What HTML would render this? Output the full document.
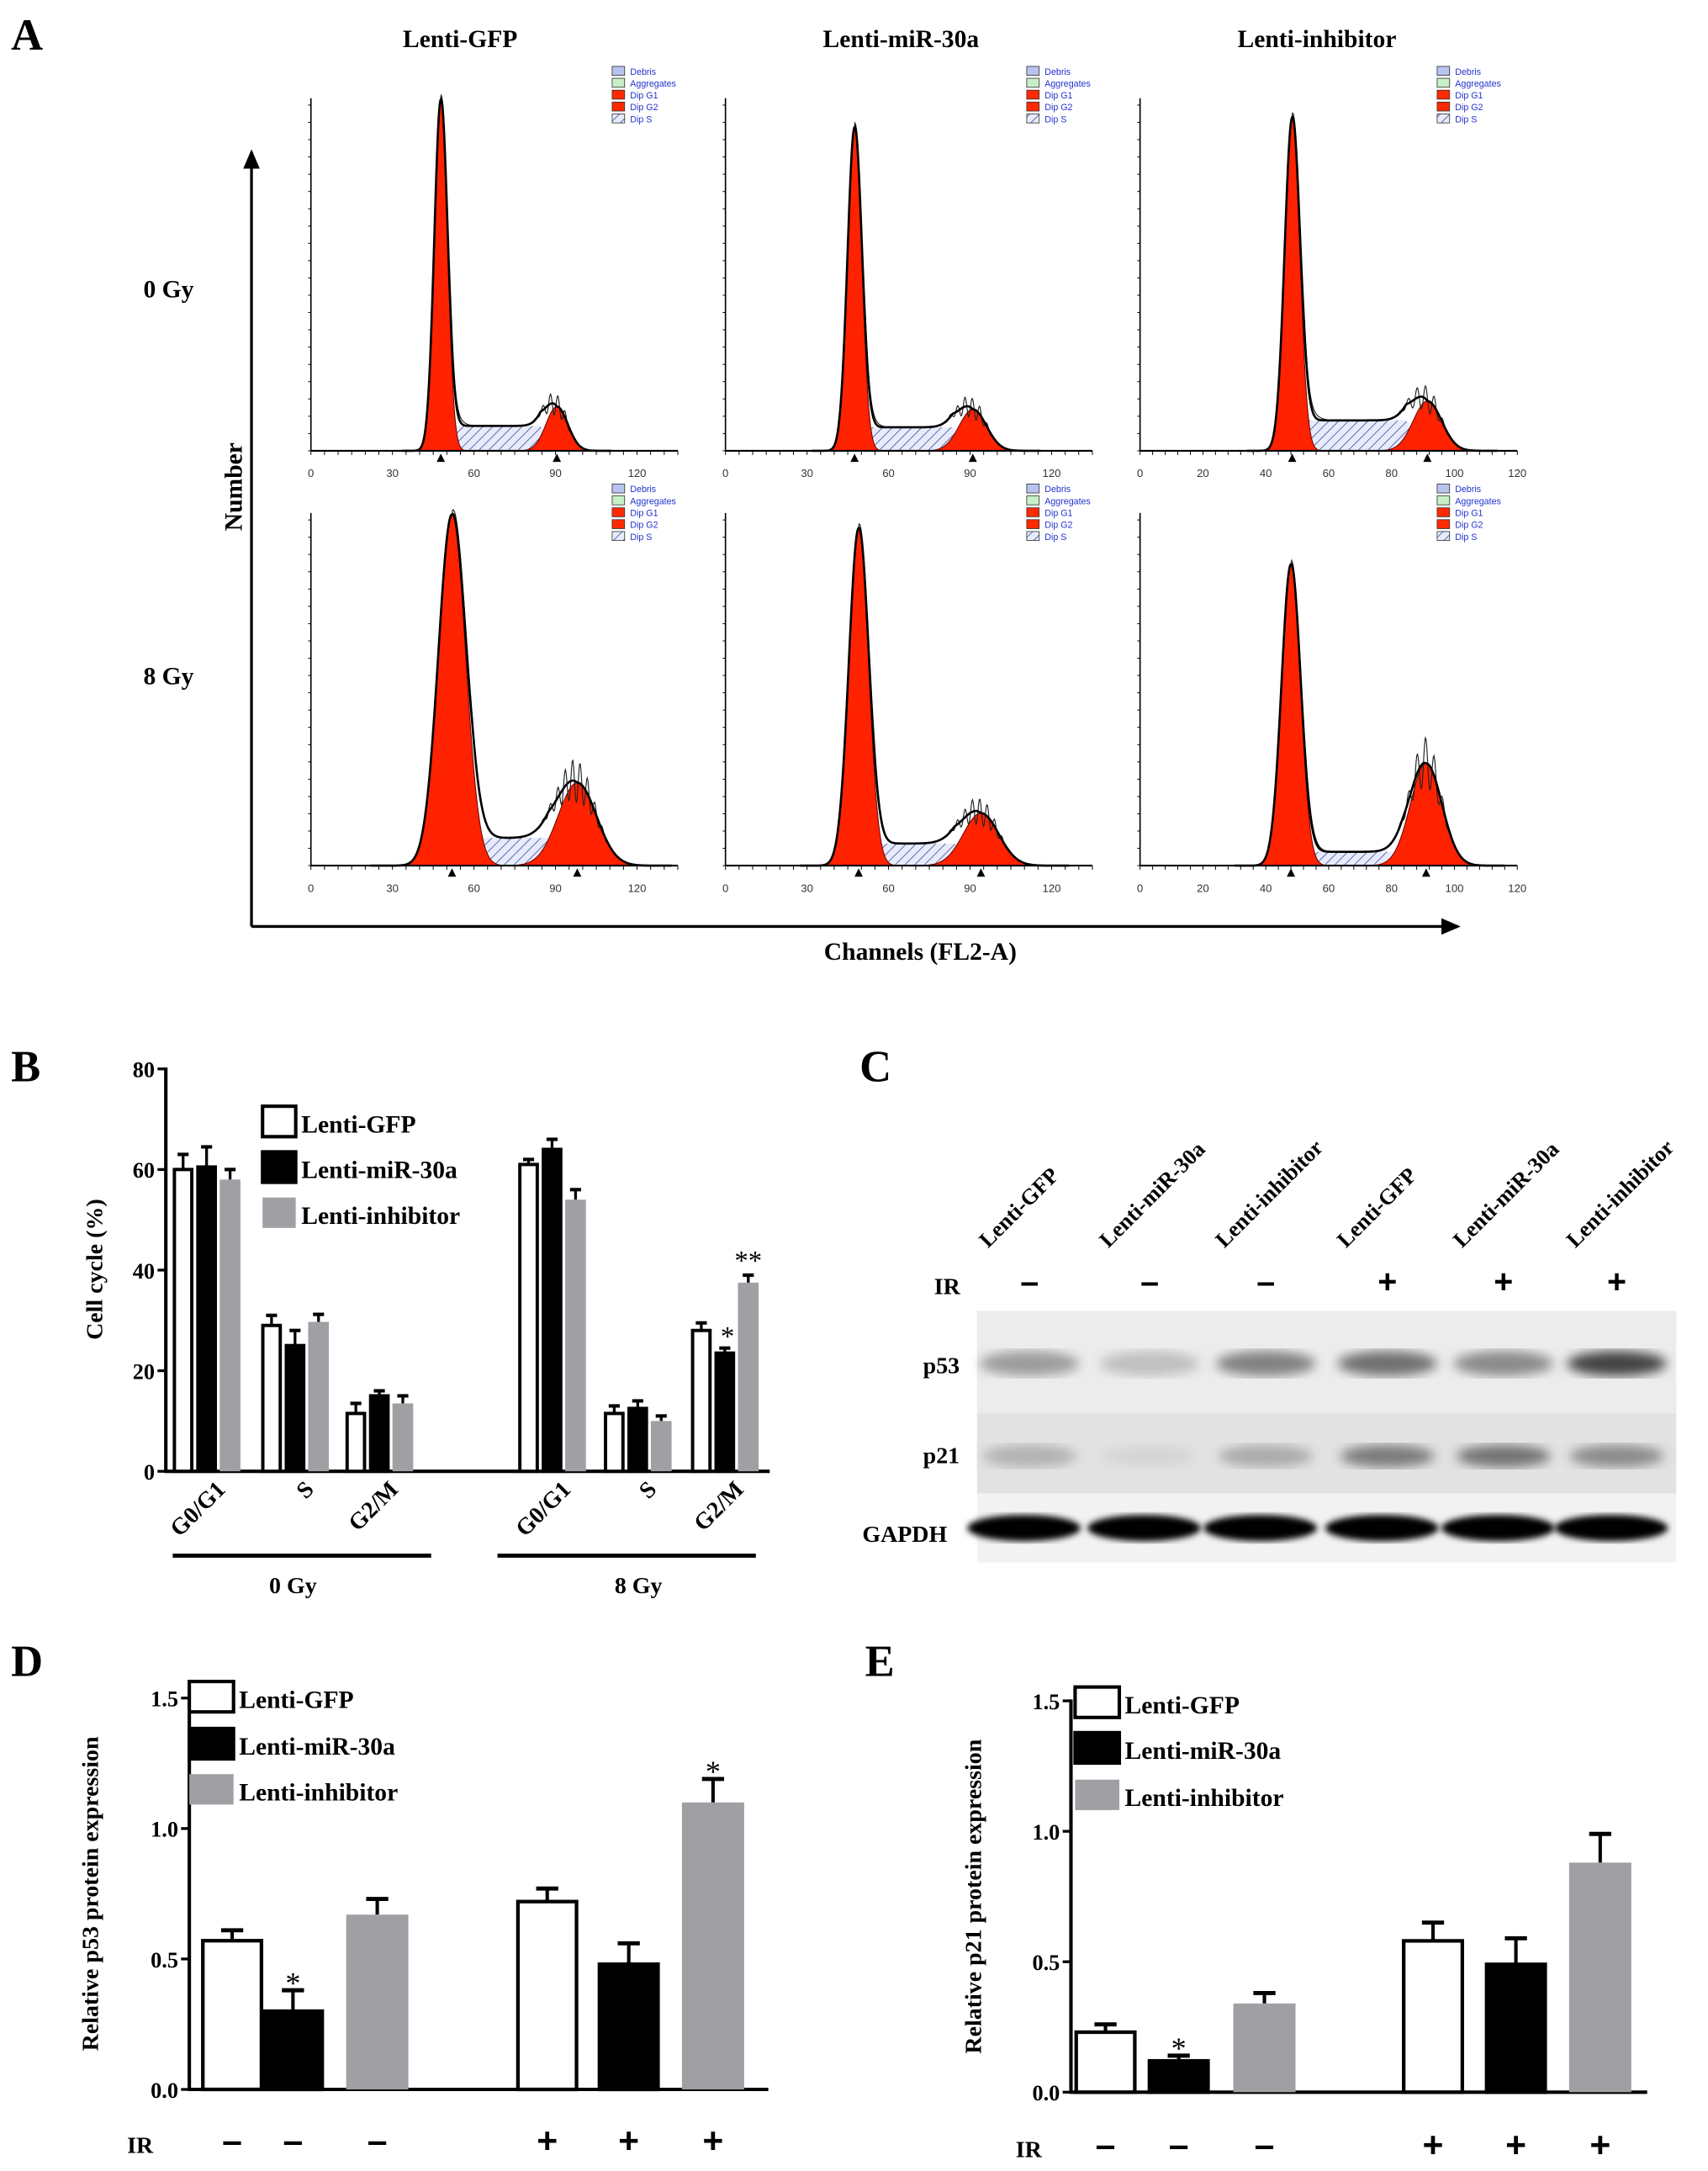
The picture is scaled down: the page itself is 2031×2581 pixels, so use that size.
<!DOCTYPE html>
<html><head><meta charset="utf-8"><style>
html,body{margin:0;padding:0;background:#fff;}
svg{display:block;font-family:"Liberation Serif",serif;font-weight:bold;}
</style></head><body>
<svg id="fig" width="2031" height="2581" viewBox="0 0 1236 1570" preserveAspectRatio="none" xmlns="http://www.w3.org/2000/svg">
<defs>
<pattern id="hatch" width="5" height="5" patternUnits="userSpaceOnUse" patternTransform="rotate(45)">
<rect width="5" height="5" fill="#e8ecfa"/><line x1="0" y1="0" x2="0" y2="5" stroke="#4050a0" stroke-width="1"/></pattern>
<filter id="blur3"><feGaussianBlur stdDeviation="4"/></filter>
<filter id="blur2"><feGaussianBlur stdDeviation="2.2"/></filter>
<marker id="arr" markerWidth="8" markerHeight="8" refX="6" refY="4" orient="auto"><path d="M0,1 L7,4 L0,7 z" fill="#000"/></marker>
</defs>
<g id="panelA"></g>
<g id="panelB"></g>
<g id="panelC"></g>
<g id="panelD"></g>
<g id="panelE"></g>
</svg>
<script>
// ---- data ----
const histTitles = ["Lenti-GFP","Lenti-miR-30a","Lenti-inhibitor"];
const histG1Ch = [47.8,47.5,48.4, 51.9,49,48];
const histG1H = [254,234,241, 254,244,218];
const histG1Sd = [2.4,2.6,2.4, 5,3.6,3];
const histG2Ch = [90.5,91,91.4, 98,94,91];
const histG2H = [32,30,36, 60,38,74];
const histG2Sd = [4,5,4.5, 7,6.5,5];
const histSH = [18,17,22, 20,16,10];

const bCategories = ["G0/G1","S","G2/M","G0/G1","S","G2/M"];
const bGFP = [60,29,11.5,61,11.5,28];
const bMiR = [60.5,25,15,64,12.5,23.5];
const bInh = [58,29.7,13.5,54,10,37.5];
const bGFPErr = [3,2,2,1,1.5,1.5];
const bMiRErr = [4,3,1,2,1.5,1];
const bInhErr = [2,1.5,1.5,2,1,1.5];
const bTicks = [0,20,40,60,80];

const dValues = [0.57,0.30,0.67,0.72,0.48,1.10];
const dErr = [0.04,0.08,0.06,0.05,0.08,0.09];
const eValues = [0.23,0.12,0.34,0.58,0.49,0.88];
const eErr = [0.03,0.02,0.04,0.07,0.10,0.11];
const irSigns = ["-","-","-","+","+","+"];
const pTicks = [0.0,0.5,1.0,1.5];
const laneLabels = ["Lenti-GFP","Lenti-miR-30a","Lenti-inhibitor","Lenti-GFP","Lenti-miR-30a","Lenti-inhibitor"];
const p53Int = [0.45,0.25,0.6,0.7,0.55,0.95];
const p21Int = [0.3,0.08,0.35,0.65,0.7,0.55];
const gapdhInt = [1,1,1,1,1,1];

const NS="http://www.w3.org/2000/svg";
function mk(parent,tag,attrs,text){const e=document.createElementNS(NS,tag);for(const k in attrs)e.setAttribute(k,attrs[k]);if(text!==undefined)e.textContent=text;parent.appendChild(e);return e;}

// ---- Panel A ----
const A=document.getElementById('panelA');
let t=mk(A,'text',{x:8,y:36,'font-size':32},'A');


const colTitleX=[333,652,953];
histTitles.forEach((s,i)=>{const e=mk(A,'text',{x:colTitleX[i],y:34,'font-size':18,'text-anchor':'middle'},s);

});
[['0 Gy',215],['8 Gy',495]].forEach(r=>{const e=mk(A,'text',{x:122,y:r[1],'font-size':18,'text-anchor':'middle'},r[0]);

});
let ax=mk(A,'line',{x1:182,y1:670,x2:182,y2:110,stroke:'#000','stroke-width':2,'marker-end':'url(#arr)'});


ax=mk(A,'line',{x1:182,y1:670,x2:1055,y2:670,stroke:'#000','stroke-width':2,'marker-end':'url(#arr)'});


t=mk(A,'text',{x:0,y:0,'font-size':18,'text-anchor':'middle',transform:'translate(175,352) rotate(-90)'},'Number');


t=mk(A,'text',{x:666,y:694,'font-size':18,'text-anchor':'middle'},'Channels (FL2-A)');



const panX0=[225,525,825], panPx=[59/30,59/30,273/120];
const panTicks=[[0,30,60,90,120],[0,30,60,90,120],[0,20,40,60,80,100,120]];
const legendX=[443,743,1040];
const legendItems=[['Debris','#b8c4f0'],['Aggregates','#c8f0c8'],['Dip G1','#ff2a00'],['Dip G2','#ff2a00'],['Dip S','url(#hatch)']];
function gauss(x,c,h,s){return h*Math.exp(-0.5*Math.pow((x-c)/s,2));}
for(let k=0;k<6;k++){
  const col=k%3,row=Math.floor(k/3);
  const x0=panX0[col],px=panPx[col],base=row?626:326;
  const g=mk(A,'g',{});
  
  
  const X=ch=>x0+ch*px;
  const xEnd=X(col==2?120:135);
  const c1=histG1Ch[k],c2=histG2Ch[k];
  const sFn=ch=>{if(ch<c1||ch>c2)return 0;const a=Math.min(1,(ch-c1)/(histG1Sd[k]*1.5)),b=Math.min(1,(c2-ch)/(histG2Sd[k]*1.5));return histSH[k]*Math.min(a,b);};
  let pS='M'+X(c1)+','+base,pG1='M'+X(c1-5*histG1Sd[k])+','+base,pG2='M'+X(c2-4*histG2Sd[k])+','+base,env='',thin='';
  for(let ch=c1;ch<=c2;ch+=0.5)pS+=' L'+X(ch)+','+(base-sFn(ch));
  pS+=' L'+X(c2)+','+base+'Z';
  for(let ch=c1-5*histG1Sd[k];ch<=c1+5*histG1Sd[k];ch+=0.25)pG1+=' L'+X(ch)+','+(base-gauss(ch,c1,histG1H[k],histG1Sd[k]));
  pG1+=' L'+X(c1+5*histG1Sd[k])+','+base+'Z';
  for(let ch=c2-4*histG2Sd[k];ch<=c2+4*histG2Sd[k];ch+=0.25)pG2+=' L'+X(ch)+','+(base-gauss(ch,c2,histG2H[k],histG2Sd[k]));
  pG2+=' L'+X(c2+4*histG2Sd[k])+','+base+'Z';
  for(let ch=c1-6*histG1Sd[k];ch<=c2+5*histG2Sd[k];ch+=0.25){
    const v=gauss(ch,c1,histG1H[k],histG1Sd[k])+gauss(ch,c2,histG2H[k],histG2Sd[k])+sFn(ch);
    env+=(env?' L':'M')+X(ch)+','+(base-v);
    const w=v*(1+0.25*Math.sin(ch*2.3)*Math.exp(-0.5*Math.pow((ch-c2)/histG2Sd[k],2)))+(ch>c1&&ch<c1+12?6*Math.exp(-Math.pow(ch-c1-4,2)/20):0);
    thin+=(thin?' L':'M')+X(ch)+','+(base-w);
  }
  mk(g,'path',{d:pS,fill:'url(#hatch)',stroke:'none'});
  mk(g,'path',{d:pG1,fill:'#ff2200',stroke:'#600','stroke-width':0.6});
  mk(g,'path',{d:pG2,fill:'#ff2200',stroke:'#600','stroke-width':0.6});
  mk(g,'path',{d:thin,fill:'none',stroke:'#222','stroke-width':0.7});
  mk(g,'path',{d:env,fill:'none',stroke:'#000','stroke-width':1.6});
  mk(g,'line',{x1:x0,y1:base,x2:xEnd,y2:base,stroke:'#000','stroke-width':1.3});
  mk(g,'line',{x1:x0,y1:base,x2:x0,y2:base-255,stroke:'#000','stroke-width':1});
  for(let j=0;j<=20;j++){mk(g,'line',{x1:x0-2,y1:base-j*12.5,x2:x0,y2:base-j*12.5,stroke:'#000','stroke-width':0.6});}
  for(let ch=0;ch<=(col==2?120:135);ch+=(col==2?4:5)){mk(g,'line',{x1:X(ch),y1:base,x2:X(ch),y2:base+3,stroke:'#000','stroke-width':0.6});}
  panTicks[col].forEach(v=>{const e=mk(g,'text',{x:X(v),y:base+19,'font-size':8,'font-weight':'normal','text-anchor':'middle',fill:'#333','font-family':'Liberation Sans, sans-serif'},String(v));
    
    });
  [c1,c2].forEach(c=>mk(g,'path',{d:'M'+(X(c)-3)+','+(base+8)+' L'+(X(c)+3)+','+(base+8)+' L'+X(c)+','+(base+2)+'z',fill:'#000'}));
  const ly=row?350:48;
  legendItems.forEach((it,j)=>{mk(g,'rect',{x:legendX[col],y:ly+j*8.6,width:9,height:6.5,fill:it[1],stroke:'#333','stroke-width':0.5});
    const e=mk(g,'text',{x:legendX[col]+13,y:ly+j*8.6+6,'font-size':6.5,'font-weight':'normal',fill:'#2233cc','font-family':'Liberation Sans, sans-serif'},it[0]);
    
    });
}

// ---- legend helper ----
function legend(G,x,ys,boxW,boxH,fs){
  const fills=[['#fff','Lenti-GFP'],['#000','Lenti-miR-30a'],['#a0a0a4','Lenti-inhibitor']];
  fills.forEach((f,i)=>{const r=mk(G,'rect',{x:x,y:ys[i],width:boxW,height:boxH,fill:f[0],stroke:f[0]=='#a0a0a4'?'none':'#000','stroke-width':2.5});
    
    
    const e=mk(G,'text',{x:x+boxW+4,y:ys[i]+boxH-3,'font-size':fs},f[1]);
    
    });
}

// ---- Panel B ----
const B=document.getElementById('panelB');
t=mk(B,'text',{x:8,y:782,'font-size':32},'B');


const bY=v=>1064-v*(1064-773)/80;
const bGroupX=[125,189,250,375,437,500];
const bw=15,bgap=2;
mk(B,'line',{x1:120,y1:772,x2:120,y2:1065,stroke:'#000','stroke-width':2.5});
mk(B,'line',{x1:119,y1:1064,x2:557,y2:1064,stroke:'#000','stroke-width':2.5});
bTicks.forEach(v=>{mk(B,'line',{x1:114,y1:bY(v),x2:120,y2:bY(v),stroke:'#000','stroke-width':2});
  const e=mk(B,'text',{x:112,y:bY(v)+6,'font-size':16,'text-anchor':'end'},String(v));
  
  });
t=mk(B,'text',{x:0,y:0,'font-size':17,'text-anchor':'middle',transform:'translate(74,918) rotate(-90)'},'Cell cycle (%)');


const bSeries=[[bGFP,bGFPErr,'#fff'],[bMiR,bMiRErr,'#000'],[bInh,bInhErr,'#a0a0a4']];
bCategories.forEach((c,i)=>{
  bSeries.forEach((s,j)=>{
    const x=bGroupX[i]+j*(bw+bgap),v=s[0][i],er=s[1][i];
    mk(B,'line',{x1:x+bw/2,y1:bY(v),x2:x+bw/2,y2:bY(v+er),stroke:'#000','stroke-width':2});
    mk(B,'line',{x1:x+bw/2-4,y1:bY(v+er),x2:x+bw/2+4,y2:bY(v+er),stroke:'#000','stroke-width':2.5});
    const r=mk(B,'rect',{x:x+(j==2?0:1.2),y:bY(v),width:bw-(j==2?0:2.4),height:1064-bY(v),fill:s[2],stroke:j==2?'none':'#000','stroke-width':2.4});
    
    
  });
  const cx=bGroupX[i]+25;
  const e=mk(B,'text',{x:0,y:0,'font-size':17,'text-anchor':'end',transform:'translate('+(cx+14)+',1078) rotate(-45)'},c);
  
  
});
mk(B,'line',{x1:125,y1:1125,x2:312,y2:1125,stroke:'#000','stroke-width':3});
mk(B,'line',{x1:360,y1:1125,x2:547,y2:1125,stroke:'#000','stroke-width':3});
[['0 Gy',212],['8 Gy',462]].forEach(r=>{const e=mk(B,'text',{x:r[1],y:1152,'font-size':17,'text-anchor':'middle'},r[0]);
  
  });
t=mk(B,'text',{x:bGroupX[5]+bw+bgap+bw/2+2,y:bY(bMiR[5]+bMiRErr[5])-2,'font-size':20,'text-anchor':'middle','font-weight':'normal'},'*');


t=mk(B,'text',{x:bGroupX[5]+2*(bw+bgap)+bw/2,y:bY(bInh[5]+bInhErr[5])-4,'font-size':20,'text-anchor':'middle','font-weight':'normal'},'**');


legend(B,190,[800,833,866],24,22,18);

// ---- Panel C ----
const C=document.getElementById('panelC');
t=mk(C,'text',{x:622,y:782,'font-size':32},'C');


const laneX=[745,832,916,1004,1088,1170];
laneLabels.forEach((s,i)=>{const e=mk(C,'text',{x:0,y:0,'font-size':16,transform:'translate('+(laneX[i]-30)+',903) rotate(-45)'},s);
  
  
  const sg=mk(C,'text',{x:laneX[i],y:935,'font-size':24,'text-anchor':'middle','font-family':'Liberation Sans, sans-serif'},irSigns[i]=='-'?'–':'+');
  
  });
t=mk(C,'text',{x:676,y:936,'font-size':17},'IR');


const blot=mk(C,'g',{});


mk(blot,'rect',{x:707,y:948,width:506,height:74,fill:'#ececec'});
mk(blot,'rect',{x:707,y:1022,width:506,height:58,fill:'#e2e2e2'});
mk(blot,'rect',{x:707,y:1080,width:506,height:50,fill:'#f2f2f2'});
laneX.forEach((x,i)=>{
  mk(blot,'ellipse',{cx:x,cy:986,rx:36,ry:9,fill:'#000','fill-opacity':p53Int[i]*0.75,filter:'url(#blur3)'});
  mk(blot,'ellipse',{cx:x,cy:1053,rx:34,ry:8,fill:'#000','fill-opacity':p21Int[i]*0.7,filter:'url(#blur3)'});
  mk(blot,'ellipse',{cx:x-4,cy:1105,rx:41,ry:9.5,fill:'#000','fill-opacity':gapdhInt[i],filter:'url(#blur2)'});
});
[['p53',668,993],['p21',668,1058],['GAPDH',624,1115]].forEach(r=>{const e=mk(C,'text',{x:r[1],y:r[2],'font-size':17},r[0]);
  
  });

// ---- Panels D & E ----
function protChart(G,letter,lx,axX,yTop,yBot,xEnd,centers,vals,errs,ylabel,ylabX,irY,irX,legX,legY,starIdx){
  let tt=mk(G,'text',{x:lx,y:1212,'font-size':32},letter);
  
  
  const Y=v=>yBot-v*(yBot-yTop)/1.5;
  mk(G,'line',{x1:axX,y1:yTop-1,x2:axX,y2:yBot+1,stroke:'#000','stroke-width':2.5});
  mk(G,'line',{x1:axX-1,y1:yBot,x2:xEnd,y2:yBot,stroke:'#000','stroke-width':2.5});
  pTicks.forEach(v=>{mk(G,'line',{x1:axX-6,y1:Y(v),x2:axX,y2:Y(v),stroke:'#000','stroke-width':2});
    const e=mk(G,'text',{x:axX-8,y:Y(v)+6,'font-size':16,'text-anchor':'end'},v.toFixed(1));
    
    });
  const fills=['#fff','#000','#a0a0a4'];
  vals.forEach((v,i)=>{
    const cx=centers[i],w=45,f=fills[i%3];
    mk(G,'line',{x1:cx,y1:Y(v),x2:cx,y2:Y(v+errs[i]),stroke:'#000','stroke-width':2.5});
    mk(G,'line',{x1:cx-8,y1:Y(v+errs[i]),x2:cx+8,y2:Y(v+errs[i]),stroke:'#000','stroke-width':3});
    const r=mk(G,'rect',{x:cx-w/2+(f=='#a0a0a4'?0:1.3),y:Y(v),width:w-(f=='#a0a0a4'?0:2.6),height:yBot-Y(v),fill:f,stroke:f=='#a0a0a4'?'none':'#000','stroke-width':2.6});
    
    
    const s=mk(G,'text',{x:cx,y:irY,'font-size':26,'text-anchor':'middle','font-family':'Liberation Sans, sans-serif'},irSigns[i]=='-'?'–':'+');
    
    
  });
  starIdx.forEach(i=>{const e=mk(G,'text',{x:centers[i],y:Y(vals[i]+errs[i])+2,'font-size':22,'text-anchor':'middle','font-weight':'normal'},'*');
    
    });
  tt=mk(G,'text',{x:irX,y:irY,'font-size':17},'IR');
  
  
  tt=mk(G,'text',{x:0,y:0,'font-size':17,'text-anchor':'middle',transform:'translate('+ylabX+','+((yTop+yBot)/2)+') rotate(-90)'},ylabel);
  
  
  legend(G,legX,legY,32,22,18);
}
protChart(document.getElementById('panelD'),'D',8,137,1228,1511,556,[168,212,273,396,455,516],dValues,dErr,'Relative p53 protein expression',71,1557,92,137,[1216,1250,1283],[1,5]);
protChart(document.getElementById('panelE'),'E',626,775,1230,1513,1192,[800,853,915,1037,1097,1158],eValues,eErr,'Relative p21 protein expression',710,1560,735,778,[1220,1253,1287],[1]);
</script>
</body></html>
